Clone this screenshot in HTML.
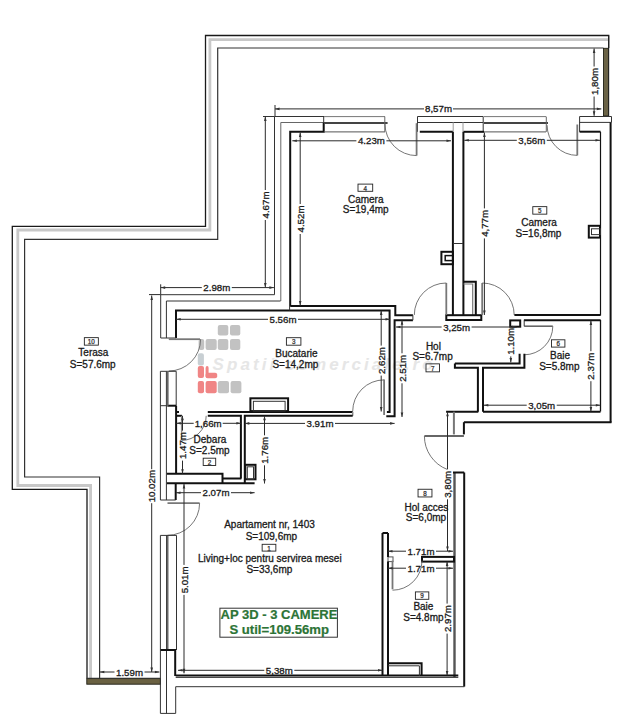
<!DOCTYPE html>
<html><head><meta charset="utf-8"><style>
html,body{margin:0;padding:0;background:#fff;}
svg{display:block;font-family:"Liberation Sans",sans-serif;}
</style></head><body>
<svg width="635" height="720" viewBox="0 0 635 720">
<rect width="635" height="720" fill="#fff"/>
<text x="212.6" y="369.6" font-size="17" font-style="italic" font-weight="bold" fill="#e6e6e6" textLength="220" lengthAdjust="spacing">Spatii comerciale.ro</text>
<rect x="217.8" y="325" width="10.5" height="10.6" rx="2" fill="#c2c2c2"/>
<rect x="230" y="325" width="10.3" height="10.6" rx="2" fill="#c2c2c2"/>
<rect x="198.6" y="338.9" width="5.6" height="11.1" rx="2" fill="#c2c2c2"/>
<rect x="205.6" y="338.9" width="11.1" height="11.1" rx="2" fill="#c2c2c2"/>
<rect x="217.8" y="338.9" width="10.5" height="11.1" rx="2" fill="#c2c2c2"/>
<rect x="230" y="338.9" width="10.3" height="11.1" rx="2" fill="#c2c2c2"/>
<rect x="197.8" y="353.3" width="6.1" height="12.2" rx="2" fill="#c8cfd3"/>
<rect x="197.8" y="366" width="6.2" height="12" rx="2" fill="#f08585"/>
<rect x="205.6" y="366" width="3" height="12" rx="2" fill="#f08585"/>
<rect x="205.6" y="372.8" width="11.6" height="5.4" rx="2" fill="#f08585"/>
<rect x="197.8" y="381" width="6.2" height="12.3" rx="2" fill="#f08585"/>
<rect x="205.6" y="381" width="11.1" height="12.3" rx="2" fill="#f08585"/>
<rect x="217.8" y="381" width="11.2" height="12.3" rx="2" fill="#c2c2c2"/>
<rect x="230.6" y="381" width="10.8" height="12.3" rx="2" fill="#c2c2c2"/>
<path d="M608.7,48 V35.5 H205.5 V226.4 H12.3 V489.3 H87 V678.6" stroke="#1a1a1a" stroke-width="1.3" fill="none"/>
<path d="M608,39.6 H209.9 V230 H17.8 V485.5 H90.6 V678.6" stroke="#c8c8c8" stroke-width="2.8" fill="none"/>
<path d="M603.4,48 H217.7 V239.4 H24.6 V477 H99.6 V678.6" stroke="#333" stroke-width="1.2" fill="none"/>
<rect x="603.5" y="48.3" width="5" height="67.7" fill="#6a6245" stroke="#1e1e14" stroke-width="0.9"/>
<line x1="608.7" y1="35.5" x2="608.7" y2="116" stroke="#222" stroke-width="1"/>
<rect x="86.8" y="678.6" width="73.6" height="5.6" fill="#6a6142" stroke="#1e1e14" stroke-width="0.9"/>
<line x1="86.6" y1="678.2" x2="160.4" y2="678.2" stroke="#333" stroke-width="0.8"/>
<path d="M274.5,294.7 V116.5 H324" stroke="#333" stroke-width="1" fill="none"/>
<path d="M280.8,301 V122.5 H324" stroke="#666" stroke-width="1" fill="none"/>
<path d="M290.2,306 V131.8 H323.7 V122.5" stroke="#111" stroke-width="2" fill="none"/>
<line x1="323.7" y1="116.5" x2="323.7" y2="122.5" stroke="#333" stroke-width="1" fill="none"/>
<line x1="324" y1="116.6" x2="385" y2="116.6" stroke="#777" stroke-width="1"/>
<line x1="324" y1="123.1" x2="387.6" y2="123.1" stroke="#444" stroke-width="2"/>
<line x1="324" y1="131.9" x2="385" y2="131.9" stroke="#555" stroke-width="1"/>
<line x1="384.8" y1="116.6" x2="384.8" y2="131.9" stroke="#666" stroke-width="1"/>
<path d="M417.5,116.5 H483.2 V131.8" stroke="#333" stroke-width="1" fill="none"/>
<path d="M417.5,122.5 H483.2" stroke="#333" stroke-width="1" fill="none"/>
<path d="M419.8,131.8 H452.9" stroke="#111" stroke-width="2" fill="none"/>
<path d="M417.5,116.5 V131.8" stroke="#333" stroke-width="1" fill="none"/>
<path d="M463.3,131.8 H484" stroke="#111" stroke-width="2" fill="none"/>
<line x1="484" y1="116.6" x2="546" y2="116.6" stroke="#777" stroke-width="1"/>
<line x1="484" y1="123.1" x2="548" y2="123.1" stroke="#444" stroke-width="2"/>
<line x1="484" y1="131.9" x2="546" y2="131.9" stroke="#555" stroke-width="1"/>
<line x1="546.3" y1="116.6" x2="546.3" y2="131.9" stroke="#666" stroke-width="1"/>
<path d="M579.6,131.8 V116.5 H611.5 V122.4 H579.6" stroke="#333" stroke-width="1" fill="none"/>
<path d="M579.6,131.7 H600.5" stroke="#111" stroke-width="2" fill="none"/>
<line x1="600.5" y1="131.7" x2="600.5" y2="315.5" stroke="#111" stroke-width="1.2"/>
<line x1="610.6" y1="122.4" x2="610.6" y2="422.5" stroke="#111" stroke-width="2"/>
<rect x="588.8" y="225.8" width="11.2" height="11.8" stroke="#111" stroke-width="2" fill="none"/>
<rect x="591.5" y="228.8" width="9" height="5.8" stroke="#333" stroke-width="1" fill="none"/>
<line x1="416.6" y1="123.2" x2="416.6" y2="155.6" stroke="#777" stroke-width="1.8"/>
<path d="M385.00,124.00 A31.6,31.6 0 0 0 416.60,155.60" stroke="#666" stroke-width="0.9" fill="none"/>
<line x1="577.3" y1="124.5" x2="577.3" y2="155.4" stroke="#777" stroke-width="1.8"/>
<path d="M547.10,125.20 A30.2,30.2 0 0 0 577.30,155.40" stroke="#666" stroke-width="0.9" fill="none"/>
<line x1="452.9" y1="131.7" x2="452.9" y2="315.2" stroke="#111" stroke-width="2" fill="none"/>
<line x1="463.4" y1="131.7" x2="463.4" y2="315.2" stroke="#111" stroke-width="2" fill="none"/>
<line x1="453.2" y1="122.3" x2="453.2" y2="131.7" stroke="#9a9a9a" stroke-width="1" fill="none"/>
<line x1="463" y1="122.3" x2="463" y2="131.7" stroke="#9a9a9a" stroke-width="1" fill="none"/>
<rect x="441.4" y="251.8" width="11.5" height="12.4" stroke="#111" stroke-width="2" fill="none"/>
<rect x="445.2" y="255.6" width="7.7" height="5" stroke="#111" stroke-width="1.5" fill="none"/>
<path d="M463.3,281.8 H475.8 V315.2" stroke="#111" stroke-width="2" fill="none"/>
<path d="M463.4,284 H472.7 V315" stroke="#777" stroke-width="1.2" fill="none"/>
<rect x="446.3" y="315.2" width="35" height="4.8" stroke="#111" stroke-width="2" fill="none"/>
<line x1="446.3" y1="283" x2="446.3" y2="315" stroke="#777" stroke-width="1.8"/>
<path d="M446.30,283.00 A32,32 0 0 0 414.30,315.00" stroke="#666" stroke-width="0.9" fill="none"/>
<line x1="482.2" y1="283" x2="482.2" y2="315" stroke="#777" stroke-width="1.8"/>
<path d="M482.20,283.00 A32,32 0 0 1 514.20,315.00" stroke="#666" stroke-width="0.9" fill="none"/>
<path d="M290.2,306 H395.3 V315.2 H412.9" stroke="#111" stroke-width="2" fill="none"/>
<path d="M176,338 V310.4 H389.6 V411.9 H386.9" stroke="#111" stroke-width="2" fill="none"/>
<path d="M412.9,320.2 H394.6 V416.3 H386.3" stroke="#111" stroke-width="2" fill="none"/>
<line x1="412.9" y1="315.2" x2="412.9" y2="320.2" stroke="#333" stroke-width="1" fill="none"/>
<line x1="289.6" y1="306" x2="289.6" y2="310.4" stroke="#333" stroke-width="1" fill="none"/>
<path d="M160.7,338 V294.7 H274.5" stroke="#333" stroke-width="1" fill="none"/>
<path d="M166.4,338 V301 H280.5" stroke="#333" stroke-width="1" fill="none"/>
<line x1="160.7" y1="338" x2="176" y2="338" stroke="#333" stroke-width="1" fill="none"/>
<line x1="168.8" y1="339.2" x2="200" y2="339.2" stroke="#777" stroke-width="1.8"/>
<path d="M200.60,339.20 A31.8,31.8 0 0 1 168.80,371.00" stroke="#666" stroke-width="0.9" fill="none"/>
<path d="M514.4,315.1 H600.5" stroke="#111" stroke-width="2" fill="none"/>
<path d="M523.9,320.2 H600.5" stroke="#111" stroke-width="2" fill="none"/>
<path d="M600.5,319.8 V411.5" stroke="#111" stroke-width="1.3" fill="none"/>
<path d="M600.5,411.7 H483" stroke="#111" stroke-width="2" fill="none"/>
<line x1="524.2" y1="326.2" x2="552.8" y2="326.2" stroke="#666" stroke-width="1.6"/>
<path d="M552.80,326.20 A28.6,28.6 0 0 1 524.20,354.80" stroke="#666" stroke-width="0.9" fill="none"/>
<path d="M454.9,363.5 H519.6 V353.8" stroke="#111" stroke-width="2" fill="none"/>
<path d="M454.9,363.5 V367.8 H477.9 V411.7" stroke="#111" stroke-width="2" fill="none"/>
<path d="M483,411.7 V367.8 H524.4 V353.8" stroke="#111" stroke-width="2" fill="none"/>
<rect x="510.2" y="320.4" width="10" height="6.3" stroke="#111" stroke-width="2" fill="none"/>
<line x1="524.2" y1="320.4" x2="524.2" y2="326.3" stroke="#333" stroke-width="1" fill="none"/>
<path d="M463.9,422.2 H611.5" stroke="#111" stroke-width="2" fill="none"/>
<path d="M446.1,411.7 H478.3" stroke="#111" stroke-width="2" fill="none"/>
<line x1="453.9" y1="411.7" x2="453.9" y2="434.4" stroke="#777" stroke-width="2"/>
<path d="M463.9,434.4 V422.2" stroke="#111" stroke-width="2" fill="none"/>
<line x1="424.4" y1="436" x2="463.9" y2="436" stroke="#666" stroke-width="1.8"/>
<path d="M424.40,436.00 A35.9,35.9 0 0 0 447.20,469.42" stroke="#666" stroke-width="0.9" fill="none"/>
<line x1="454.5" y1="472.5" x2="454.5" y2="677" stroke="#555" stroke-width="2.4"/>
<line x1="464.2" y1="472.5" x2="464.2" y2="686.6" stroke="#111" stroke-width="2" fill="none"/>
<line x1="453" y1="472.5" x2="464.2" y2="472.5" stroke="#111" stroke-width="2" fill="none"/>
<path d="M207.8,411.9 H352.7" stroke="#111" stroke-width="2" fill="none"/>
<path d="M176.3,415.8 H182" stroke="#111" stroke-width="2" fill="none"/>
<line x1="352.7" y1="411.9" x2="352.7" y2="415.8" stroke="#888" stroke-width="1.5"/>
<path d="M207.8,415.8 H240.9 V478.5" stroke="#111" stroke-width="2" fill="none"/>
<path d="M244.8,483.2 V415.8 H352.7" stroke="#111" stroke-width="2" fill="none"/>
<path d="M176.1,405.7 V473.7" stroke="#111" stroke-width="2" fill="none"/>
<line x1="176.1" y1="412" x2="179" y2="412" stroke="#111" stroke-width="2" fill="none"/>
<path d="M166.7,473.7 H222.5 V483.2" stroke="#111" stroke-width="2" fill="none"/>
<path d="M166.7,483.2 H254.6" stroke="#111" stroke-width="2" fill="none"/>
<path d="M222.5,478.5 H241.4" stroke="#111" stroke-width="2" fill="none"/>
<rect x="245.3" y="464.8" width="10.2" height="14.5" stroke="#111" stroke-width="2" fill="none"/>
<rect x="247.3" y="466.8" width="6.2" height="12.5" stroke="#333" stroke-width="1" fill="none"/>
<line x1="181.6" y1="415.8" x2="181.6" y2="440" stroke="#888" stroke-width="1.4"/>
<path d="M206.20,415.80 A24.6,24.6 0 0 1 181.60,440.40" stroke="#666" stroke-width="0.9" fill="none"/>
<path d="M160.4,371.3 V500" stroke="#333" stroke-width="1" fill="none"/>
<path d="M166.4,371.3 V500" stroke="#333" stroke-width="1" fill="none"/>
<path d="M176.2,371.3 V405.7" stroke="#333" stroke-width="1" fill="none"/>
<line x1="160.4" y1="371.3" x2="176.2" y2="371.3" stroke="#333" stroke-width="1" fill="none"/>
<line x1="160.4" y1="405.7" x2="167.3" y2="405.7" stroke="#333" stroke-width="1" fill="none"/>
<line x1="167.3" y1="405.7" x2="176.2" y2="405.7" stroke="#111" stroke-width="2" fill="none"/>
<line x1="167.7" y1="371.3" x2="167.7" y2="405.7" stroke="#666" stroke-width="1.8"/>
<path d="M175.7,483 V500" stroke="#111" stroke-width="2" fill="none"/>
<line x1="160.4" y1="500" x2="175.7" y2="500" stroke="#333" stroke-width="1" fill="none"/>
<line x1="167.5" y1="503.2" x2="199.6" y2="503.2" stroke="#777" stroke-width="1.8"/>
<path d="M199.60,503.20 A32.1,32.1 0 0 1 167.50,535.30" stroke="#666" stroke-width="0.9" fill="none"/>
<path d="M160.4,535.4 V713.4 H175.7 V686.7 H464.4" stroke="#333" stroke-width="1" fill="none"/>
<path d="M166.5,535.4 V713.4" stroke="#333" stroke-width="1" fill="none"/>
<line x1="167.6" y1="535.4" x2="167.6" y2="650" stroke="#666" stroke-width="1.8"/>
<line x1="160.4" y1="535.4" x2="176.5" y2="535.4" stroke="#333" stroke-width="1" fill="none"/>
<path d="M176.5,535.4 V650" stroke="#333" stroke-width="1" fill="none"/>
<path d="M160.5,650 H175.2 V676" stroke="#111" stroke-width="2" fill="none"/>
<path d="M175.7,675.6 H458.3" stroke="#111" stroke-width="2" fill="none"/>
<line x1="175.7" y1="677.4" x2="458.3" y2="677.4" stroke="#333" stroke-width="1" fill="none"/>
<line x1="384.1" y1="379.5" x2="384.1" y2="415" stroke="#777" stroke-width="1.8"/>
<path d="M352.70,411.30 A31.4,31.4 0 0 1 384.10,379.90" stroke="#666" stroke-width="0.9" fill="none"/>
<rect x="250.4" y="398.3" width="37.7" height="12.8" stroke="#111" stroke-width="2" fill="none"/>
<rect x="253.4" y="401.3" width="31.7" height="9.8" stroke="#333" stroke-width="1" fill="none"/>
<line x1="149" y1="294.6" x2="160.7" y2="294.6" stroke="#2a2a2a" stroke-width="1" fill="none"/>
<line x1="160.7" y1="284.3" x2="160.7" y2="294.6" stroke="#2a2a2a" stroke-width="1" fill="none"/>
<rect x="388" y="556.9" width="5" height="4.7" stroke="#555" stroke-width="1" fill="none"/>
<line x1="263" y1="116.5" x2="274.5" y2="116.5" stroke="#333" stroke-width="1" fill="none"/>
<line x1="275" y1="105" x2="275" y2="116.5" stroke="#2a2a2a" stroke-width="1" fill="none"/>
<line x1="453" y1="243.5" x2="463" y2="243.5" stroke="#333" stroke-width="1" fill="none"/>
<path d="M382.5,533 V676" stroke="#111" stroke-width="2" fill="none"/>
<path d="M388,533 V556.9" stroke="#111" stroke-width="2" fill="none"/>
<path d="M388,561.6 V676" stroke="#111" stroke-width="2" fill="none"/>
<line x1="382.5" y1="533" x2="388" y2="533" stroke="#111" stroke-width="2" fill="none"/>
<rect x="422" y="556.9" width="32" height="4.7" stroke="#111" stroke-width="2" fill="none"/>
<line x1="392.5" y1="560.7" x2="392.5" y2="589.3" stroke="#777" stroke-width="1.8"/>
<path d="M422.00,560.70 A29.5,29.5 0 0 1 392.50,590.20" stroke="#666" stroke-width="0.9" fill="none"/>
<path d="M388,663.2 H421.6 V676" stroke="#111" stroke-width="2" fill="none"/>
<path d="M388,665.8 H419.4 V676" stroke="#333" stroke-width="1" fill="none"/>
<line x1="275" y1="108.9" x2="424.0" y2="108.9" stroke="#2a2a2a" stroke-width="1" fill="none"/>
<line x1="453.0" y1="108.9" x2="601.3" y2="108.9" stroke="#2a2a2a" stroke-width="1" fill="none"/>
<path d="M275,108.9 L279.50,107.60 L279.50,110.20 Z" fill="#333"/>
<path d="M601.3,108.9 L596.80,110.20 L596.80,107.60 Z" fill="#333"/>
<text x="438.5" y="108.9" font-size="9.7" text-anchor="middle" dominant-baseline="central" fill="#1a1a1a" stroke="#1a1a1a" stroke-width="0.3">8,57m</text>
<line x1="594.1" y1="48.5" x2="594.1" y2="66.5" stroke="#2a2a2a" stroke-width="1" fill="none"/>
<line x1="594.1" y1="96.5" x2="594.1" y2="115.8" stroke="#2a2a2a" stroke-width="1" fill="none"/>
<path d="M594.1,48.5 L595.40,53.00 L592.80,53.00 Z" fill="#333"/>
<path d="M594.1,115.8 L592.80,111.30 L595.40,111.30 Z" fill="#333"/>
<text x="0" y="0" transform="translate(594.1,81.5) rotate(-90)" font-size="9.7" text-anchor="middle" dominant-baseline="central" fill="#1a1a1a" stroke="#1a1a1a" stroke-width="0.3">1,80m</text>
<line x1="292.3" y1="140.8" x2="356.4" y2="140.8" stroke="#2a2a2a" stroke-width="1" fill="none"/>
<line x1="386.4" y1="140.8" x2="451" y2="140.8" stroke="#2a2a2a" stroke-width="1" fill="none"/>
<path d="M292.3,140.8 L296.80,139.50 L296.80,142.10 Z" fill="#333"/>
<path d="M451,140.8 L446.50,142.10 L446.50,139.50 Z" fill="#333"/>
<text x="371.4" y="140.8" font-size="9.7" text-anchor="middle" dominant-baseline="central" fill="#1a1a1a" stroke="#1a1a1a" stroke-width="0.3">4.23m</text>
<line x1="464.3" y1="140.3" x2="516.8" y2="140.3" stroke="#2a2a2a" stroke-width="1" fill="none"/>
<line x1="546.8" y1="140.3" x2="600" y2="140.3" stroke="#2a2a2a" stroke-width="1" fill="none"/>
<path d="M464.3,140.3 L468.80,139.00 L468.80,141.60 Z" fill="#333"/>
<path d="M600,140.3 L595.50,141.60 L595.50,139.00 Z" fill="#333"/>
<text x="531.8" y="140.3" font-size="9.7" text-anchor="middle" dominant-baseline="central" fill="#1a1a1a" stroke="#1a1a1a" stroke-width="0.3">3,56m</text>
<line x1="265.3" y1="116.5" x2="265.3" y2="190.0" stroke="#2a2a2a" stroke-width="1" fill="none"/>
<line x1="265.3" y1="220.0" x2="265.3" y2="287.4" stroke="#2a2a2a" stroke-width="1" fill="none"/>
<path d="M265.3,116.5 L266.60,121.00 L264.00,121.00 Z" fill="#333"/>
<path d="M265.3,287.4 L264.00,282.90 L266.60,282.90 Z" fill="#333"/>
<text x="0" y="0" transform="translate(265.3,205) rotate(-90)" font-size="9.7" text-anchor="middle" dominant-baseline="central" fill="#1a1a1a" stroke="#1a1a1a" stroke-width="0.3">4.67m</text>
<line x1="300.2" y1="132.5" x2="300.2" y2="204.0" stroke="#2a2a2a" stroke-width="1" fill="none"/>
<line x1="300.2" y1="234.0" x2="300.2" y2="305.5" stroke="#2a2a2a" stroke-width="1" fill="none"/>
<path d="M300.2,132.5 L301.50,137.00 L298.90,137.00 Z" fill="#333"/>
<path d="M300.2,305.5 L298.90,301.00 L301.50,301.00 Z" fill="#333"/>
<text x="0" y="0" transform="translate(300.2,219) rotate(-90)" font-size="9.7" text-anchor="middle" dominant-baseline="central" fill="#1a1a1a" stroke="#1a1a1a" stroke-width="0.3">4.52m</text>
<line x1="484.4" y1="132.5" x2="484.4" y2="208.4" stroke="#2a2a2a" stroke-width="1" fill="none"/>
<line x1="484.4" y1="238.4" x2="484.4" y2="315" stroke="#2a2a2a" stroke-width="1" fill="none"/>
<path d="M484.4,132.5 L485.70,137.00 L483.10,137.00 Z" fill="#333"/>
<path d="M484.4,315 L483.10,310.50 L485.70,310.50 Z" fill="#333"/>
<text x="0" y="0" transform="translate(484.4,223.4) rotate(-90)" font-size="9.7" text-anchor="middle" dominant-baseline="central" fill="#1a1a1a" stroke="#1a1a1a" stroke-width="0.3">4,77m</text>
<line x1="160.7" y1="287.6" x2="201.8" y2="287.6" stroke="#2a2a2a" stroke-width="1" fill="none"/>
<line x1="231.8" y1="287.6" x2="273.9" y2="287.6" stroke="#2a2a2a" stroke-width="1" fill="none"/>
<path d="M160.7,287.6 L165.20,286.30 L165.20,288.90 Z" fill="#333"/>
<path d="M273.9,287.6 L269.40,288.90 L269.40,286.30 Z" fill="#333"/>
<text x="216.8" y="287.6" font-size="9.7" text-anchor="middle" dominant-baseline="central" fill="#1a1a1a" stroke="#1a1a1a" stroke-width="0.3">2.98m</text>
<line x1="176.2" y1="319.3" x2="268.0" y2="319.3" stroke="#2a2a2a" stroke-width="1" fill="none"/>
<line x1="298.0" y1="319.3" x2="390" y2="319.3" stroke="#2a2a2a" stroke-width="1" fill="none"/>
<path d="M176.2,319.3 L180.70,318.00 L180.70,320.60 Z" fill="#333"/>
<path d="M390,319.3 L385.50,320.60 L385.50,318.00 Z" fill="#333"/>
<text x="283" y="319.3" font-size="9.7" text-anchor="middle" dominant-baseline="central" fill="#1a1a1a" stroke="#1a1a1a" stroke-width="0.3">5.56m</text>
<line x1="381.2" y1="310.6" x2="381.2" y2="345.6" stroke="#2a2a2a" stroke-width="1" fill="none"/>
<line x1="381.2" y1="375.6" x2="381.2" y2="411.5" stroke="#2a2a2a" stroke-width="1" fill="none"/>
<path d="M381.2,310.6 L382.50,315.10 L379.90,315.10 Z" fill="#333"/>
<path d="M381.2,411.5 L379.90,407.00 L382.50,407.00 Z" fill="#333"/>
<text x="0" y="0" transform="translate(381.2,360.6) rotate(-90)" font-size="9.7" text-anchor="middle" dominant-baseline="central" fill="#1a1a1a" stroke="#1a1a1a" stroke-width="0.3">2.62m</text>
<line x1="402" y1="320.3" x2="402" y2="353.3" stroke="#2a2a2a" stroke-width="1" fill="none"/>
<line x1="402" y1="383.3" x2="402" y2="417" stroke="#2a2a2a" stroke-width="1" fill="none"/>
<path d="M402,320.3 L403.30,324.80 L400.70,324.80 Z" fill="#333"/>
<path d="M402,417 L400.70,412.50 L403.30,412.50 Z" fill="#333"/>
<text x="0" y="0" transform="translate(402,368.3) rotate(-90)" font-size="9.7" text-anchor="middle" dominant-baseline="central" fill="#1a1a1a" stroke="#1a1a1a" stroke-width="0.3">2.51m</text>
<line x1="396" y1="327" x2="441.6" y2="327" stroke="#2a2a2a" stroke-width="1" fill="none"/>
<line x1="471.6" y1="327" x2="516.7" y2="327" stroke="#2a2a2a" stroke-width="1" fill="none"/>
<path d="M396,327 L400.50,325.70 L400.50,328.30 Z" fill="#333"/>
<path d="M516.7,327 L512.20,328.30 L512.20,325.70 Z" fill="#333"/>
<text x="456.6" y="327" font-size="9.7" text-anchor="middle" dominant-baseline="central" fill="#1a1a1a" stroke="#1a1a1a" stroke-width="0.3">3,25m</text>
<line x1="510.8" y1="327" x2="510.8" y2="326.4" stroke="#2a2a2a" stroke-width="1" fill="none"/>
<line x1="510.8" y1="356.4" x2="510.8" y2="362.4" stroke="#2a2a2a" stroke-width="1" fill="none"/>
<path d="M510.8,362.4 L509.50,357.90 L512.10,357.90 Z" fill="#333"/>
<text x="0" y="0" transform="translate(510.8,341.4) rotate(-90)" font-size="9.7" text-anchor="middle" dominant-baseline="central" fill="#1a1a1a" stroke="#1a1a1a" stroke-width="0.3">1.10m</text>
<line x1="590.9" y1="320.5" x2="590.9" y2="351.2" stroke="#2a2a2a" stroke-width="1" fill="none"/>
<line x1="590.9" y1="381.2" x2="590.9" y2="411.5" stroke="#2a2a2a" stroke-width="1" fill="none"/>
<path d="M590.9,320.5 L592.20,325.00 L589.60,325.00 Z" fill="#333"/>
<path d="M590.9,411.5 L589.60,407.00 L592.20,407.00 Z" fill="#333"/>
<text x="0" y="0" transform="translate(590.9,366.2) rotate(-90)" font-size="9.7" text-anchor="middle" dominant-baseline="central" fill="#1a1a1a" stroke="#1a1a1a" stroke-width="0.3">2.37m</text>
<line x1="483.8" y1="405.2" x2="526.7" y2="405.2" stroke="#2a2a2a" stroke-width="1" fill="none"/>
<line x1="556.7" y1="405.2" x2="600.3" y2="405.2" stroke="#2a2a2a" stroke-width="1" fill="none"/>
<path d="M483.8,405.2 L488.30,403.90 L488.30,406.50 Z" fill="#333"/>
<path d="M600.3,405.2 L595.80,406.50 L595.80,403.90 Z" fill="#333"/>
<text x="541.7" y="405.2" font-size="9.7" text-anchor="middle" dominant-baseline="central" fill="#1a1a1a" stroke="#1a1a1a" stroke-width="0.3">3,05m</text>
<line x1="176.3" y1="423.3" x2="193.7" y2="423.3" stroke="#2a2a2a" stroke-width="1" fill="none"/>
<line x1="222.7" y1="423.3" x2="240.9" y2="423.3" stroke="#2a2a2a" stroke-width="1" fill="none"/>
<path d="M176.3,423.3 L180.80,422.00 L180.80,424.60 Z" fill="#333"/>
<path d="M240.9,423.3 L236.40,424.60 L236.40,422.00 Z" fill="#333"/>
<text x="208.2" y="423.3" font-size="9.7" text-anchor="middle" dominant-baseline="central" fill="#1a1a1a" stroke="#1a1a1a" stroke-width="0.3">1,66m</text>
<line x1="244.8" y1="423.4" x2="305.0" y2="423.4" stroke="#2a2a2a" stroke-width="1" fill="none"/>
<line x1="335.0" y1="423.4" x2="394.6" y2="423.4" stroke="#2a2a2a" stroke-width="1" fill="none"/>
<path d="M244.8,423.4 L249.30,422.10 L249.30,424.70 Z" fill="#333"/>
<path d="M394.6,423.4 L390.10,424.70 L390.10,422.10 Z" fill="#333"/>
<text x="320" y="423.4" font-size="9.7" text-anchor="middle" dominant-baseline="central" fill="#1a1a1a" stroke="#1a1a1a" stroke-width="0.3">3.91m</text>
<line x1="182.5" y1="415.8" x2="182.5" y2="430.6" stroke="#2a2a2a" stroke-width="1" fill="none"/>
<line x1="182.5" y1="460.6" x2="182.5" y2="473.7" stroke="#2a2a2a" stroke-width="1" fill="none"/>
<path d="M182.5,415.8 L183.80,420.30 L181.20,420.30 Z" fill="#333"/>
<path d="M182.5,473.7 L181.20,469.20 L183.80,469.20 Z" fill="#333"/>
<text x="0" y="0" transform="translate(182.5,445.6) rotate(-90)" font-size="9.7" text-anchor="middle" dominant-baseline="central" fill="#1a1a1a" stroke="#1a1a1a" stroke-width="0.3">1.47m</text>
<line x1="264.5" y1="415.8" x2="264.5" y2="435.3" stroke="#2a2a2a" stroke-width="1" fill="none"/>
<line x1="264.5" y1="465.3" x2="264.5" y2="483.5" stroke="#2a2a2a" stroke-width="1" fill="none"/>
<path d="M264.5,415.8 L265.80,420.30 L263.20,420.30 Z" fill="#333"/>
<path d="M264.5,483.5 L263.20,479.00 L265.80,479.00 Z" fill="#333"/>
<text x="0" y="0" transform="translate(264.5,450.3) rotate(-90)" font-size="9.7" text-anchor="middle" dominant-baseline="central" fill="#1a1a1a" stroke="#1a1a1a" stroke-width="0.3">1.76m</text>
<line x1="176" y1="492.7" x2="201.0" y2="492.7" stroke="#2a2a2a" stroke-width="1" fill="none"/>
<line x1="231.0" y1="492.7" x2="254.6" y2="492.7" stroke="#2a2a2a" stroke-width="1" fill="none"/>
<path d="M176,492.7 L180.50,491.40 L180.50,494.00 Z" fill="#333"/>
<path d="M254.6,492.7 L250.10,494.00 L250.10,491.40 Z" fill="#333"/>
<text x="216" y="492.7" font-size="9.7" text-anchor="middle" dominant-baseline="central" fill="#1a1a1a" stroke="#1a1a1a" stroke-width="0.3">2.07m</text>
<line x1="151.7" y1="295.5" x2="151.7" y2="469.2" stroke="#2a2a2a" stroke-width="1" fill="none"/>
<line x1="151.7" y1="503.2" x2="151.7" y2="672" stroke="#2a2a2a" stroke-width="1" fill="none"/>
<path d="M151.7,295.5 L153.00,300.00 L150.40,300.00 Z" fill="#333"/>
<path d="M151.7,672 L150.40,667.50 L153.00,667.50 Z" fill="#333"/>
<text x="0" y="0" transform="translate(151.7,486.2) rotate(-90)" font-size="9.7" text-anchor="middle" dominant-baseline="central" fill="#1a1a1a" stroke="#1a1a1a" stroke-width="0.3">10.02m</text>
<line x1="184" y1="484" x2="184" y2="564.9" stroke="#2a2a2a" stroke-width="1" fill="none"/>
<line x1="184" y1="594.9" x2="184" y2="673.3" stroke="#2a2a2a" stroke-width="1" fill="none"/>
<path d="M184,484 L185.30,488.50 L182.70,488.50 Z" fill="#333"/>
<path d="M184,673.3 L182.70,668.80 L185.30,668.80 Z" fill="#333"/>
<text x="0" y="0" transform="translate(184,579.9) rotate(-90)" font-size="9.7" text-anchor="middle" dominant-baseline="central" fill="#1a1a1a" stroke="#1a1a1a" stroke-width="0.3">5.01m</text>
<line x1="99.8" y1="672" x2="114.5" y2="672" stroke="#2a2a2a" stroke-width="1" fill="none"/>
<line x1="144.5" y1="672" x2="159.4" y2="672" stroke="#2a2a2a" stroke-width="1" fill="none"/>
<path d="M99.8,672 L104.30,670.70 L104.30,673.30 Z" fill="#333"/>
<path d="M159.4,672 L154.90,673.30 L154.90,670.70 Z" fill="#333"/>
<text x="129.5" y="672" font-size="9.7" text-anchor="middle" dominant-baseline="central" fill="#1a1a1a" stroke="#1a1a1a" stroke-width="0.3">1.59m</text>
<line x1="178" y1="670.3" x2="264.3" y2="670.3" stroke="#2a2a2a" stroke-width="1" fill="none"/>
<line x1="294.3" y1="670.3" x2="382.5" y2="670.3" stroke="#2a2a2a" stroke-width="1" fill="none"/>
<path d="M178,670.3 L182.50,669.00 L182.50,671.60 Z" fill="#333"/>
<path d="M382.5,670.3 L378.00,671.60 L378.00,669.00 Z" fill="#333"/>
<text x="279.3" y="670.3" font-size="9.7" text-anchor="middle" dominant-baseline="central" fill="#1a1a1a" stroke="#1a1a1a" stroke-width="0.3">5,38m</text>
<line x1="447.5" y1="411.8" x2="447.5" y2="469.3" stroke="#2a2a2a" stroke-width="1" fill="none"/>
<line x1="447.5" y1="499.3" x2="447.5" y2="551" stroke="#2a2a2a" stroke-width="1" fill="none"/>
<path d="M447.5,411.8 L448.80,416.30 L446.20,416.30 Z" fill="#333"/>
<path d="M447.5,551 L446.20,546.50 L448.80,546.50 Z" fill="#333"/>
<text x="0" y="0" transform="translate(447.5,484.3) rotate(-90)" font-size="9.7" text-anchor="middle" dominant-baseline="central" fill="#1a1a1a" stroke="#1a1a1a" stroke-width="0.3">3,80m</text>
<line x1="388" y1="551.2" x2="406.0" y2="551.2" stroke="#2a2a2a" stroke-width="1" fill="none"/>
<line x1="436.0" y1="551.2" x2="453" y2="551.2" stroke="#2a2a2a" stroke-width="1" fill="none"/>
<path d="M388,551.2 L392.50,549.90 L392.50,552.50 Z" fill="#333"/>
<path d="M453,551.2 L448.50,552.50 L448.50,549.90 Z" fill="#333"/>
<text x="421" y="551.2" font-size="9.7" text-anchor="middle" dominant-baseline="central" fill="#1a1a1a" stroke="#1a1a1a" stroke-width="0.3">1.71m</text>
<line x1="388" y1="568.2" x2="406.0" y2="568.2" stroke="#2a2a2a" stroke-width="1" fill="none"/>
<line x1="436.0" y1="568.2" x2="453" y2="568.2" stroke="#2a2a2a" stroke-width="1" fill="none"/>
<path d="M388,568.2 L392.50,566.90 L392.50,569.50 Z" fill="#333"/>
<path d="M453,568.2 L448.50,569.50 L448.50,566.90 Z" fill="#333"/>
<text x="421" y="568.2" font-size="9.7" text-anchor="middle" dominant-baseline="central" fill="#1a1a1a" stroke="#1a1a1a" stroke-width="0.3">1.71m</text>
<line x1="447.1" y1="561.6" x2="447.1" y2="603.6" stroke="#2a2a2a" stroke-width="1" fill="none"/>
<line x1="447.1" y1="633.6" x2="447.1" y2="675.5" stroke="#2a2a2a" stroke-width="1" fill="none"/>
<path d="M447.1,561.6 L448.40,566.10 L445.80,566.10 Z" fill="#333"/>
<path d="M447.1,675.5 L445.80,671.00 L448.40,671.00 Z" fill="#333"/>
<text x="0" y="0" transform="translate(447.1,618.6) rotate(-90)" font-size="9.7" text-anchor="middle" dominant-baseline="central" fill="#1a1a1a" stroke="#1a1a1a" stroke-width="0.3">2.97m</text>
<rect x="84.35" y="337.65" width="14" height="7.5" stroke="#222" stroke-width="0.9" fill="none"/>
<text x="91.35" y="341.7" font-size="6.3" text-anchor="middle" dominant-baseline="central" fill="#333" stroke="#333" stroke-width="0.25">10</text>
<text x="93.35" y="352.75" font-size="10" text-anchor="middle" dominant-baseline="central" fill="#1a1a1a" stroke="#1a1a1a" stroke-width="0.3">Terasa</text>
<text x="92.75" y="364.05" font-size="10" text-anchor="middle" dominant-baseline="central" fill="#1a1a1a" stroke="#1a1a1a" stroke-width="0.3">S=57.6mp</text>
<rect x="358.0" y="184.1" width="14.7" height="7.2" stroke="#222" stroke-width="0.9" fill="none"/>
<text x="365.35" y="188.0" font-size="6.3" text-anchor="middle" dominant-baseline="central" fill="#333" stroke="#333" stroke-width="0.25">4</text>
<text x="365.7" y="199.2" font-size="10" text-anchor="middle" dominant-baseline="central" fill="#1a1a1a" stroke="#1a1a1a" stroke-width="0.3">Camera</text>
<text x="365.7" y="209.65" font-size="10" text-anchor="middle" dominant-baseline="central" fill="#1a1a1a" stroke="#1a1a1a" stroke-width="0.3">S=19,4mp</text>
<rect x="532.8" y="206.65" width="14" height="7.5" stroke="#222" stroke-width="0.9" fill="none"/>
<text x="539.8" y="210.70000000000002" font-size="6.3" text-anchor="middle" dominant-baseline="central" fill="#333" stroke="#333" stroke-width="0.25">5</text>
<text x="539" y="222.5" font-size="10" text-anchor="middle" dominant-baseline="central" fill="#1a1a1a" stroke="#1a1a1a" stroke-width="0.3">Camera</text>
<text x="538.5" y="233.2" font-size="10" text-anchor="middle" dominant-baseline="central" fill="#1a1a1a" stroke="#1a1a1a" stroke-width="0.3">S=16,8mp</text>
<rect x="286.4" y="337.7" width="14.5" height="7.5" stroke="#222" stroke-width="0.9" fill="none"/>
<text x="293.65" y="341.75" font-size="6.3" text-anchor="middle" dominant-baseline="central" fill="#333" stroke="#333" stroke-width="0.25">3</text>
<text x="296.4" y="353.7" font-size="10" text-anchor="middle" dominant-baseline="central" fill="#1a1a1a" stroke="#1a1a1a" stroke-width="0.3">Bucatarie</text>
<text x="295.4" y="364.6" font-size="10" text-anchor="middle" dominant-baseline="central" fill="#1a1a1a" stroke="#1a1a1a" stroke-width="0.3">S=14,2mp</text>
<rect x="426.0" y="363.85" width="13.5" height="8" stroke="#222" stroke-width="0.9" fill="none"/>
<text x="432.75" y="368.15000000000003" font-size="6.3" text-anchor="middle" dominant-baseline="central" fill="#333" stroke="#333" stroke-width="0.25">7</text>
<text x="433.4" y="346.3" font-size="10" text-anchor="middle" dominant-baseline="central" fill="#1a1a1a" stroke="#1a1a1a" stroke-width="0.3">Hol</text>
<text x="432.6" y="356.9" font-size="10" text-anchor="middle" dominant-baseline="central" fill="#1a1a1a" stroke="#1a1a1a" stroke-width="0.3">S=6.7mp</text>
<rect x="551.5" y="339.8" width="13.4" height="7.3" stroke="#222" stroke-width="0.9" fill="none"/>
<text x="558.2" y="343.75" font-size="6.3" text-anchor="middle" dominant-baseline="central" fill="#333" stroke="#333" stroke-width="0.25">6</text>
<text x="560.1" y="355.2" font-size="10" text-anchor="middle" dominant-baseline="central" fill="#1a1a1a" stroke="#1a1a1a" stroke-width="0.3">Baie</text>
<text x="559.3" y="366.2" font-size="10" text-anchor="middle" dominant-baseline="central" fill="#1a1a1a" stroke="#1a1a1a" stroke-width="0.3">S=5.8mp</text>
<rect x="203.2" y="458.20000000000005" width="12.5" height="7.3" stroke="#222" stroke-width="0.9" fill="none"/>
<text x="209.45" y="462.15000000000003" font-size="6.3" text-anchor="middle" dominant-baseline="central" fill="#333" stroke="#333" stroke-width="0.25">2</text>
<text x="209.9" y="439.75" font-size="10" text-anchor="middle" dominant-baseline="central" fill="#1a1a1a" stroke="#1a1a1a" stroke-width="0.3">Debara</text>
<text x="209.5" y="450.5" font-size="10" text-anchor="middle" dominant-baseline="central" fill="#1a1a1a" stroke="#1a1a1a" stroke-width="0.3">S=2.5mp</text>
<text x="269.5" y="524.6" font-size="10" text-anchor="middle" dominant-baseline="central" fill="#1a1a1a" stroke="#1a1a1a" stroke-width="0.3">Apartament nr, 1403</text>
<text x="271.4" y="536.5" font-size="10" text-anchor="middle" dominant-baseline="central" fill="#1a1a1a" stroke="#1a1a1a" stroke-width="0.3">S=109,6mp</text>
<rect x="262.15" y="544.3000000000001" width="13.7" height="6.8" stroke="#222" stroke-width="0.9" fill="none"/>
<text x="269" y="548.0" font-size="6.3" text-anchor="middle" dominant-baseline="central" fill="#333" stroke="#333" stroke-width="0.25">1</text>
<text x="269.8" y="558.7" font-size="10" text-anchor="middle" dominant-baseline="central" fill="#1a1a1a" stroke="#1a1a1a" stroke-width="0.3">Living+loc pentru servirea mesei</text>
<text x="269.4" y="569.9" font-size="10" text-anchor="middle" dominant-baseline="central" fill="#1a1a1a" stroke="#1a1a1a" stroke-width="0.3">S=33,6mp</text>
<rect x="418.05" y="489.25" width="13.9" height="7.7" stroke="#222" stroke-width="0.9" fill="none"/>
<text x="425" y="493.40000000000003" font-size="6.3" text-anchor="middle" dominant-baseline="central" fill="#333" stroke="#333" stroke-width="0.25">8</text>
<text x="426.4" y="507.3" font-size="10" text-anchor="middle" dominant-baseline="central" fill="#1a1a1a" stroke="#1a1a1a" stroke-width="0.3">Hol acces</text>
<text x="426" y="517.9" font-size="10" text-anchor="middle" dominant-baseline="central" fill="#1a1a1a" stroke="#1a1a1a" stroke-width="0.3">S=6,0mp</text>
<rect x="415.40000000000003" y="591.9" width="13.4" height="7.4" stroke="#222" stroke-width="0.9" fill="none"/>
<text x="422.1" y="595.9" font-size="6.3" text-anchor="middle" dominant-baseline="central" fill="#333" stroke="#333" stroke-width="0.25">9</text>
<text x="423.4" y="606.9" font-size="10" text-anchor="middle" dominant-baseline="central" fill="#1a1a1a" stroke="#1a1a1a" stroke-width="0.3">Baie</text>
<text x="423.4" y="617.8" font-size="10" text-anchor="middle" dominant-baseline="central" fill="#1a1a1a" stroke="#1a1a1a" stroke-width="0.3">S=4.8mp</text>
<rect x="219.9" y="608.2" width="117.5" height="29" stroke="#333" stroke-width="1" fill="none"/>
<text x="220.6" y="619.4" font-size="12.4" font-weight="bold" fill="#2c7436" stroke="#2c7436" stroke-width="0.2" textLength="116.8" lengthAdjust="spacingAndGlyphs">AP 3D - 3 CAMERE</text>
<text x="229.4" y="633.7" font-size="12.4" font-weight="bold" fill="#2c7436" stroke="#2c7436" stroke-width="0.2" textLength="99.6" lengthAdjust="spacingAndGlyphs">S util=109.56mp</text>
</svg>
</body></html>
